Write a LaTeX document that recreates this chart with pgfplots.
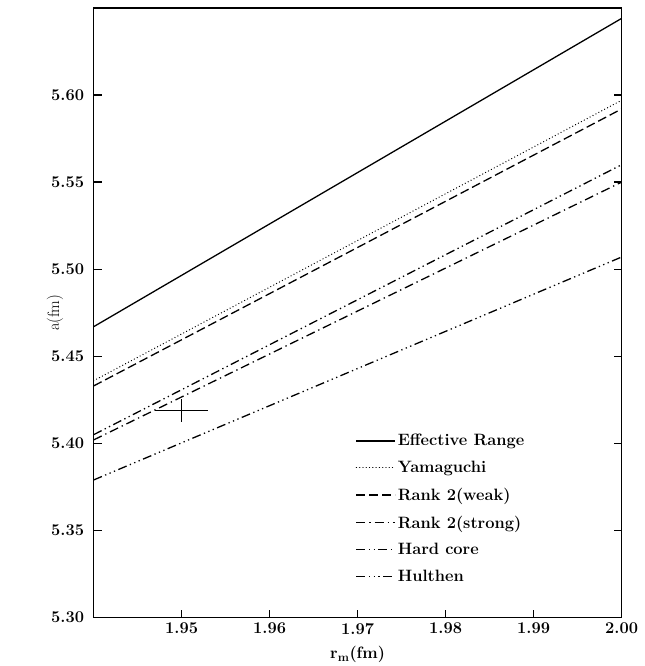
\documentclass[border=0pt]{standalone}
\usepackage{pgfplots}
\pgfplotsset{compat=1.18}
\begin{document}
\begin{tikzpicture}
\begin{axis}[
  scale only axis, width=530pt, height=612pt,
  xmin=1.94, xmax=2.00, ymin=5.30, ymax=5.65,
  xtick={1.95,1.96,1.97,1.98,1.99,2.00},
  ytick={5.30,5.35,5.40,5.45,5.50,5.55,5.60},
  xtick pos=lower, ytick pos=both,
  tick align=inside, major tick length=8pt,
  axis line style={line width=1.3pt},
  every tick/.style={line width=1.3pt, black},
  tick label style={font=\fontsize{16.5}{20}\selectfont\bfseries,
    /pgf/number format/fixed, /pgf/number format/fixed zerofill,
    /pgf/number format/precision=2, /pgf/number format/assume math mode=true},
  xticklabel style={yshift=-2pt},
  yticklabel style={xshift=-6pt},
  xlabel={\textbf{r}$_{\mathbf{m}}$\textbf{(fm)}},
  ylabel={a(fm)},
  label style={font=\fontsize{16.5}{20}\selectfont},
  xlabel style={yshift=-5pt},
  ylabel style={yshift=-19pt},
  legend style={draw=none, fill=none, at={(0.496,0.304)}, anchor=north west,
    font=\fontsize{16.5}{20}\selectfont\bfseries, row sep=9.9pt, inner sep=0pt},
  legend cell align=left,
  legend image code/.code={\draw[#1] (0pt,0pt) -- (39pt,0pt);},
]
\addplot[black, line width=1.3pt] coordinates {(1.94,5.467) (2.00,5.644)};
\addlegendentry{Effective Range}
\addplot[black, line width=1.3pt, line cap=round, dash pattern=on 0.1pt off 3.2pt] coordinates {(1.94,5.436) (2.00,5.597)};
\addlegendentry{Yamaguchi}
\addplot[black, line width=1.3pt, dash pattern=on 9pt off 4pt] coordinates {(1.94,5.433) (2.00,5.592)};
\addlegendentry{Rank 2(weak)}
\addplot[black, line width=1.3pt, line cap=butt, dash pattern=on 9pt off 4pt on 1.3pt off 4pt] coordinates {(1.94,5.402) (2.00,5.550)};
\addlegendentry{Rank 2(strong)}
\addplot[black, line width=1.3pt, dash pattern=on 9pt off 3.5pt on 1.3pt off 3.5pt on 1.3pt off 3.5pt] coordinates {(1.94,5.405) (2.00,5.560)};
\addlegendentry{Hard core}
\addplot[black, line width=1.3pt, dash pattern=on 9pt off 3.5pt on 1.3pt off 3.5pt on 1.3pt off 3.5pt on 1.3pt off 3.5pt] coordinates {(1.94,5.379) (2.00,5.507)};
\addlegendentry{Hulthen}
\addplot[forget plot, draw=none, mark=none, line width=1.3pt,
  error bars/.cd, x dir=both, x explicit, y dir=both, y explicit,
  error mark=none, error bar style={line width=1.3pt, black}]
  coordinates {(1.95,5.419) +- (0.003,0.0065)};
\end{axis}
\path ([shift={(-94pt,-46pt)}]current axis.south west) rectangle ([shift={(23pt,8pt)}]current axis.north east);
\end{tikzpicture}
\end{document}
